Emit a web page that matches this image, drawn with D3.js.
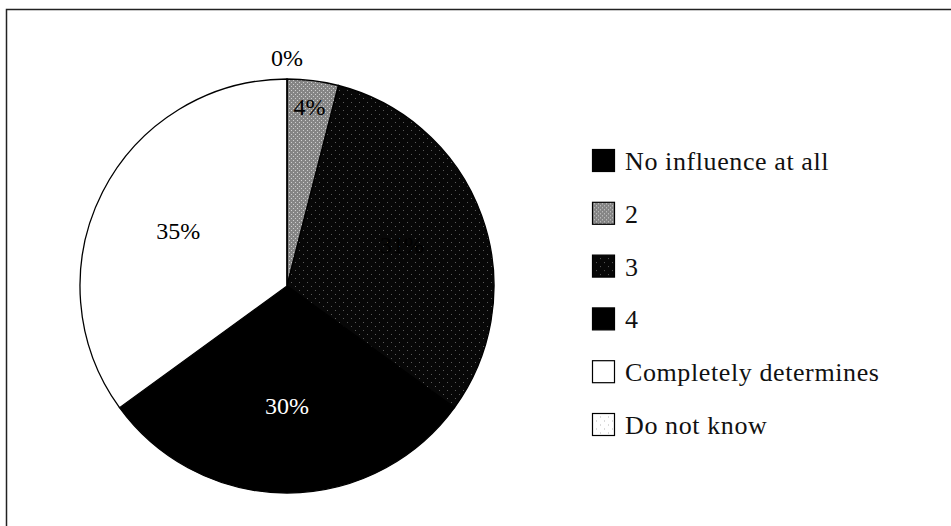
<!DOCTYPE html>
<html><head><meta charset="utf-8">
<script src="https://cdn.jsdelivr.net/npm/d3@7"></script>
<style>html,body{margin:0;padding:0;background:#fff;}svg{display:block;}</style>
</head><body>
<svg id="c" width="951" height="526"></svg>
<script>
const categories = ["No influence at all", "2", "3", "4", "Completely determines", "Do not know"];
const values = [0, 4, 31, 30, 35, 0];
const labels = ["0%", "4%", "31%", "30%", "35%", "0%"];

const svg = d3.select("#c");
const defs = svg.append("defs");

function dotPattern(id, bg, fg, step, dotsz) {
  const p = defs.append("pattern").attr("id", id).attr("patternUnits", "userSpaceOnUse")
    .attr("width", step * 2).attr("height", step * 2);
  p.append("rect").attr("width", step * 2).attr("height", step * 2).attr("fill", bg);
  p.append("rect").attr("x", 0).attr("y", 0).attr("width", dotsz).attr("height", dotsz).attr("fill", fg);
  p.append("rect").attr("x", step).attr("y", step).attr("width", dotsz).attr("height", dotsz).attr("fill", fg);
}
dotPattern("p2", "#858585", "#cfcfcf", 2, 1);
dotPattern("p3", "#070707", "#5a5a5a", 4, 1);
dotPattern("p6", "#ffffff", "#b5b5b5", 4, 1);

const fills = ["#000000", "url(#p2)", "url(#p3)", "#000000", "#ffffff", "url(#p6)"];
const labelColors = ["#000", "#000", "#000", "#fff", "#000", "#000"];
const labelRadiusFactor = [1.1, 0.87, 0.59, 0.58, 0.59, 1.1];

svg.append("path").attr("d", "M6.5,526 V9.5 H951").attr("fill", "none").attr("stroke", "#222").attr("stroke-width", 1.5);

const cx = 287, cy = 286, r = 207;
const g = svg.append("g").attr("transform", `translate(${cx},${cy})`);
const pie = d3.pie().sort(null).value(d => d)(values);
const arc = d3.arc().innerRadius(0).outerRadius(r);

g.selectAll("path.s").data(pie).join("path").attr("class", "s")
  .attr("d", arc).attr("fill", (d, i) => fills[i])
  .attr("stroke", "#000").attr("stroke-width", 1.3);

// the two 0% labels (first and last slice) coincide at the top; the reference shows them as one
const pos = pie.map((d, i) => {
  const a = (d.startAngle + d.endAngle) / 2;
  const rr = r * labelRadiusFactor[i];
  return [Math.sin(a) * rr, -Math.cos(a) * rr];
});
g.selectAll("text.l").data(pie).join("text").attr("class", "l")
  .attr("transform", (d, i) => `translate(${pos[i][0]},${pos[i][1]})`)
  .attr("text-anchor", "middle").attr("dominant-baseline", "central")
  .attr("font-family", "Liberation Serif, serif").attr("font-size", 24)
  .attr("fill", (d, i) => labelColors[i])
  .attr("fill-opacity", (d, i) => pos.slice(0, i).some((p, j) => labels[j] === labels[i] && Math.abs(p[0] - pos[i][0]) < 2 && Math.abs(p[1] - pos[i][1]) < 2) ? 0 : 1)
  .text((d, i) => labels[i]);

const lx = 592, ly0 = 160.5, step = 52.8, box = 22;
const lg = svg.append("g");
const items = lg.selectAll("g").data(categories).join("g")
  .attr("transform", (d, i) => `translate(${lx},${ly0 + i * step})`);
items.append("rect").attr("x", 0.5).attr("y", -box / 2).attr("width", box).attr("height", box)
  .attr("fill", (d, i) => fills[i]).attr("stroke", "#000").attr("stroke-width", 1.2);
items.append("text").attr("x", 33).attr("y", 1).attr("dominant-baseline", "central")
  .attr("font-family", "Liberation Serif, serif").attr("font-size", 26).attr("letter-spacing", 0.6).attr("fill", "#111")
  .text(d => d);
</script>
</body></html>
